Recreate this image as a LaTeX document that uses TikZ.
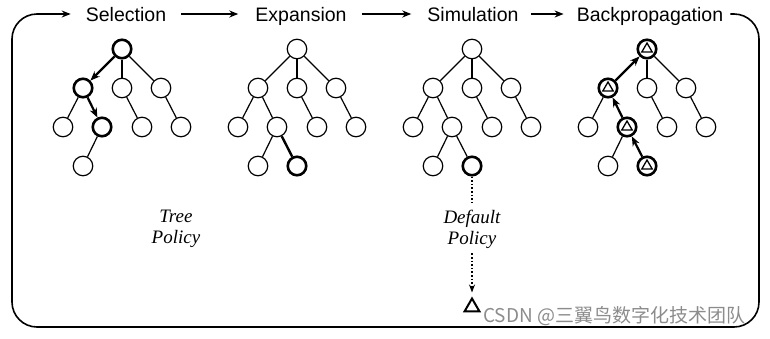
\documentclass[tikz,border=0pt]{standalone}
\usepackage{fontspec}
\setmainfont{Liberation Serif}
\setsansfont{Liberation Sans}
\newfontfamily\cjkfont{Noto Sans CJK SC}
\usetikzlibrary{arrows.meta,shapes.geometric}
\begin{document}
\begin{tikzpicture}[x=1pt,y=-1pt,
  nd/.style={circle, draw, line width=1.2pt, minimum size=19.5pt, inner sep=0pt},
  hot/.style={line width=2.6pt, minimum size=18.5pt},
  edge/.style={line width=1.2pt},
  hedge/.style={line width=2.4pt},
  harrow/.style={line width=2.2pt, -{Stealth[length=9.5pt,width=7.5pt]}},
  title/.style={font=\sffamily\fontsize{19.5}{22}\selectfont, inner sep=0pt, anchor=base, text height=14pt, text depth=0pt},
  frame/.style={line width=1.6pt},
  tarrow/.style={frame, -{Stealth[length=9pt,width=7pt]}},
  tri/.style={regular polygon, regular polygon sides=3, draw, line width=1.3pt, minimum size=12pt, inner sep=0pt},
  policy/.style={font=\itshape\fontsize{19}{21}\selectfont, align=center, inner sep=0pt},
  hl1a/.style={hot}, hl1b/.style={hot}, hl1f/.style={hot},
  hl4a/.style={hot}, hl4b/.style={hot}, hl4f/.style={hot},
]
\useasboundingbox (0,0) rectangle (770,338);

% titles
\node[title] (sel) at (126,21) {Selection};
\node[title] (exp) at (301,21) {Expansion};
\node[title] (sim) at (473,21) {Simulation};
\node[title] (back) at (650,21) {Backpropagation};

\draw[tarrow, shorten <=15pt, shorten >=17pt] (sel.east) -- (exp.west);
\draw[tarrow, shorten <=15pt, shorten >=16pt] (exp.east) -- (sim.west);
\draw[tarrow, shorten <=12pt, shorten >=13pt] (sim.east) -- (back.west);
\draw[tarrow, rounded corners=25pt] ([xshift=7pt]back.east) -- (759,14) -- (759,327) -- (12,327) -- (12,14) -- ([xshift=-15pt]sel.west);

% trees
\foreach \t/\rx in {1/122,2/297,3/472,4/647}{
  \node[nd, hl\t a/.try] (t\t a) at (\rx,49) {};
  \node[nd, hl\t b/.try] (t\t b) at (\rx-39,88) {};
  \node[nd] (t\t c) at (\rx,88) {};
  \node[nd] (t\t d) at (\rx+39,88) {};
  \node[nd] (t\t e) at (\rx-59,127) {};
  \node[nd, hl\t f/.try] (t\t f) at (\rx+-20,127) {};
  \node[nd] (t\t g) at (\rx+20,127) {};
  \node[nd] (t\t h) at (\rx+59,127) {};
  \node[nd] (t\t i) at (\rx-39,166) {};
  \draw[edge] (t\t a) -- (t\t c);
  \draw[edge] (t\t a) -- (t\t d);
  \draw[edge] (t\t b) -- (t\t e);
  \draw[edge] (t\t c) -- (t\t g);
  \draw[edge] (t\t d) -- (t\t h);
  \draw[edge] (t\t f) -- (t\t i);
}
\foreach \t/\rx in {2/297,3/472,4/647}{
  \node[nd, hot] (t\t j) at (\rx,166) {};
}
% tree 1: selection
\draw[harrow] (t1a) -- (t1b);
\draw[harrow] (t1b) -- (t1f);
% trees 2,3: plain edges
\foreach \t in {2,3}{
  \draw[edge] (t\t a) -- (t\t b);
  \draw[edge] (t\t b) -- (t\t f);
}
\draw[hedge] (t2f) -- (t2j);
\draw[edge] (t3f) -- (t3j);
% tree 4: backpropagation
\draw[harrow] (t4j) -- (t4f);
\draw[harrow] (t4f) -- (t4b);
\draw[harrow] (t4b) -- (t4a);
\foreach \n in {a,b,f,j}{
  \node[tri] (tri4\n) at (t4\n) {};
}

% policies
\node[policy] (tp) at (176,229) {Tree\\Policy};
\node[policy] (dp) at (472,229) {Default\\Policy};
\node[regular polygon, regular polygon sides=3, draw, line width=2pt, minimum size=17pt, inner sep=0pt] (term) at (472,307) {};
\draw[line width=1.6pt, dotted, shorten >=6pt] (t3j) -- (dp.north);
\draw[line width=1.6pt, dotted, shorten <=5pt, shorten >=4pt, -{Stealth[length=8pt,width=6pt]}] (dp.south) -- (term.north);

% watermark
\node[font=\cjkfont\fontsize{19}{19}\selectfont, text=black!45, anchor=base west, inner sep=0pt] (wm) at (483,322) {CSDN @三翼鸟数字化技术团队};
\end{tikzpicture}
\end{document}
